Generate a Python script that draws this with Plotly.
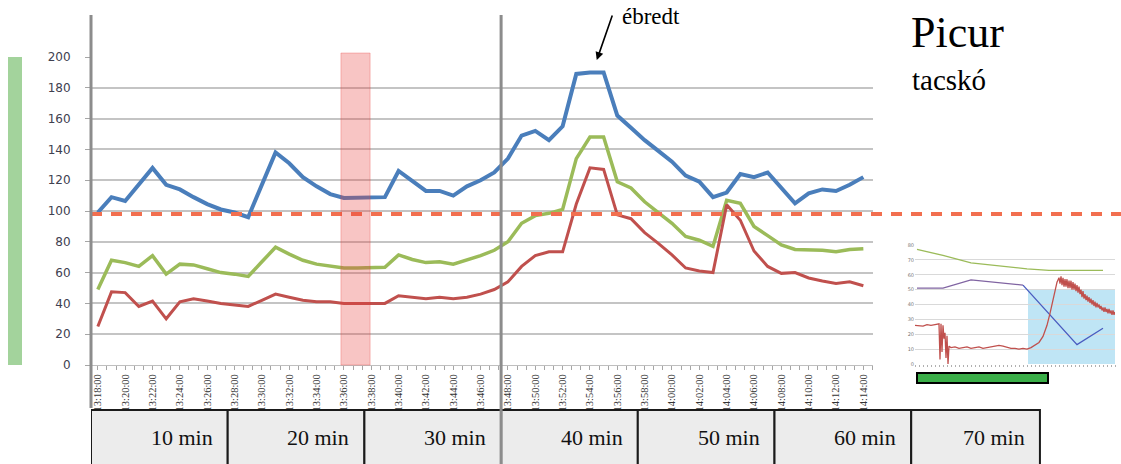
import pandas as pd
import plotly.graph_objects as go

DAY = "2021-01-01 "

# minute-by-minute readings, 13:18 .. 14:14
times = ["13:18", "13:19", "13:20", "13:21", "13:22", "13:23", "13:24", "13:25", "13:26", "13:27",
         "13:28", "13:29", "13:30", "13:31", "13:32", "13:33", "13:34", "13:35", "13:36", "13:37",
         "13:38", "13:39", "13:40", "13:41", "13:42", "13:43", "13:44", "13:45", "13:46", "13:47",
         "13:48", "13:49", "13:50", "13:51", "13:52", "13:53", "13:54", "13:55", "13:56", "13:57",
         "13:58", "13:59", "14:00", "14:01", "14:02", "14:03", "14:04", "14:05", "14:06", "14:07",
         "14:08", "14:09", "14:10", "14:11", "14:12", "14:13", "14:14"]
blue = [99, 109, 106.5, 117, 128, 117, 114, 109, 104.5, 101,
        99, 96, 117, 138, 131, 122, 116, 111, 108.5, 108.5,
        108.5, 109, 126, 119.5, 113, 113, 110, 116, 120, 125,
        134, 149, 152, 146, 155, 189, 190, 190, 162, 154,
        146, 139, 132, 123, 119, 109, 112, 124, 122, 125,
        115, 105, 111.5, 114, 113, 117, 122]
green = [49, 68, 66.5, 64, 71, 59, 65.5, 65, 62.5, 60,
         59, 57.5, 67, 76.5, 72, 68, 65.5, 64, 63, 63,
         63, 63.5, 71.5, 68.5, 66.5, 67, 65.5, 68, 71, 74.5,
         80, 92, 97, 98.5, 101, 134, 148, 148, 119, 115,
         106, 99, 92, 83.5, 81, 77, 107, 105, 90, 84,
         78, 75, 75, 74.5, 73.5, 75, 75.5]
red = [25, 47.5, 47, 38, 41.5, 30, 41, 43, 41.5, 40,
       39, 38, 42, 46, 44, 42, 41, 41, 40, 40,
       40, 40, 45, 44, 43, 44, 43, 44, 46, 49,
       54, 64, 71, 73.5, 73.5, 104.5, 128, 127, 97.5, 95,
       86, 79, 71.5, 63, 61, 60, 104, 94, 74, 64,
       59.5, 60, 56.5, 54.5, 53, 54, 51.5]
threshold = 98

band = ["13:35:47", "13:37:55"]
block_edges = ["13:17:30", "13:27:30", "13:37:30", "13:47:30", "13:57:30",
               "14:07:30", "14:17:30", "14:26:55"]
block_labels = ["10 min", "20 min", "30 min", "40 min", "50 min", "60 min", "70 min"]
divider = "13:47:30"
woke_at = ("13:54:30", 198)

# small inset chart
inset_green_x = [1, 14, 28, 41, 56, 67, 94]
inset_green_y = [77, 73, 68, 66, 64, 63, 63]
inset_purple_x = [1, 14, 28, 54]
inset_purple_y = [51, 51, 56.5, 53]
inset_blue_x = [54, 81, 94]
inset_blue_y = [53, 13, 24]
inset_red_x = [0, 2, 4, 6, 8, 10, 12, 12.5, 13, 13.5, 14, 14.5, 15, 15.5, 16, 16.5, 17, 18,
               20, 22, 24, 26, 28, 30, 32, 34, 36, 38, 40, 42, 44, 46, 48, 50, 52, 54, 56,
               58, 60, 62, 64, 66, 67.5, 69, 70, 71, 72, 72.5, 73, 73.5, 74, 74.5, 75, 75.5,
               76, 76.5, 77, 77.5, 78, 78.5, 79, 79.5, 80, 80.5, 81, 81.5, 82, 82.5, 83, 83.5,
               84, 84.5, 85, 85.5, 86, 86.5, 87, 87.5, 88, 88.5, 89, 89.5, 90, 90.5, 91, 91.5,
               92, 92.5, 93, 93.5, 94, 94.5, 95, 95.5, 96, 96.5, 97, 97.5, 98, 98.5, 99, 99.5, 100]
inset_red_y = [26, 26, 25.5, 26.5, 26, 26.5, 27, 3, 27, 8, 26, 17, 21, 4, 19, 0, 12, 11,
               11.5, 10.5, 11, 11.5, 10.5, 11, 11.5, 10.5, 11, 11.5, 11.5, 12.5, 12, 11, 10.5, 10.5, 10, 10.5, 10,
               11, 12.5, 14.5, 18.5, 26, 34, 43, 50, 55, 58, 54, 59, 53, 58, 52, 57, 52,
               57, 51, 56, 51, 56, 50, 55, 50, 54, 49, 53, 48, 52, 47, 50, 45,
               49, 44, 47, 43, 46, 42, 45, 41, 44, 40, 43, 39, 42, 38, 41, 38,
               40, 37, 39, 36, 38, 35, 38, 35, 37, 34, 37, 34, 36, 33, 36, 33, 35]

# page geometry (pixels)
W, H = 1121, 464
LEFT, RIGHT_MAIN, TOP, BOTTOM = 91, 873, 57, 365
PX_PER_MIN = 13.67


def fx(px):
    return (px - LEFT) / (W - LEFT)


def fy(py):
    return (BOTTOM - py) / (BOTTOM - TOP)


t0 = pd.Timestamp(DAY + block_edges[0])
main_end = t0 + pd.Timedelta(minutes=(RIGHT_MAIN - LEFT) / PX_PER_MIN)
full_end = t0 + pd.Timedelta(minutes=(W - LEFT) / PX_PER_MIN)
x = [DAY + t for t in times]

SERIF = "Liberation Serif, Times New Roman, serif"

fig = go.Figure()
for vals, color, width in [(blue, "#4a7ebb", 4), (green, "#9bbb59", 3.5), (red, "#c0504d", 3)]:
    fig.add_trace(go.Scatter(x=x, y=vals, mode="lines", line=dict(color=color, width=width),
                             xaxis="x", yaxis="y", showlegend=False, hoverinfo="skip"))

fig.add_trace(go.Scatter(x=[t0, full_end], y=[threshold, threshold], mode="lines",
                         line=dict(color="#f26f4f", width=4, dash="11px,9px"),
                         xaxis="x2", yaxis="y2", showlegend=False, hoverinfo="skip"))

for xs, ys, color, width in [(inset_green_x, inset_green_y, "#9bbb59", 1.3),
                             (inset_purple_x, inset_purple_y, "#8064a2", 1.3),
                             (inset_blue_x, inset_blue_y, "#4a5cc0", 1.3),
                             (inset_red_x, inset_red_y, "#c0504d", 1.3)]:
    fig.add_trace(go.Scatter(x=xs, y=ys, mode="lines", line=dict(color=color, width=width),
                             xaxis="x3", yaxis="y3", showlegend=False, hoverinfo="skip"))

shapes = [
    dict(type="rect", xref="paper", yref="y", x0=fx(8), x1=fx(22), y0=0, y1=200,
         fillcolor="#a3d39c", line=dict(width=0), layer="below"),
    dict(type="rect", xref="x", yref="paper", x0=DAY + band[0], x1=DAY + band[1], y0=0, y1=fy(53),
         fillcolor="rgba(232,64,58,0.3)", line=dict(color="rgba(232,64,58,0.3)", width=1)),
    dict(type="rect", xref="x3", yref="y3", x0=56.5, x1=103, y0=0, y1=50,
         fillcolor="#bfe5f5", line=dict(width=0), layer="below"),
    dict(type="rect", xref="x3", yref="paper", x0=1, x1=66.5, y0=fy(383), y1=fy(373),
         fillcolor="#3aae48", line=dict(color="black", width=2)),
]
for a, b in zip(block_edges[:-1], block_edges[1:]):
    shapes.append(dict(type="rect", xref="x2", yref="paper", x0=DAY + a, x1=DAY + b,
                       y0=fy(472), y1=fy(410), fillcolor="#ececec",
                       line=dict(color="#1a1a1a", width=2)))
shapes.append(dict(type="line", xref="paper", yref="paper", x0=0, x1=0, y0=fy(15), y1=fy(408),
                   line=dict(color="#8c8c8c", width=3)))
shapes.append(dict(type="line", xref="x2", yref="paper", x0=DAY + divider, x1=DAY + divider,
                   y0=fy(15), y1=fy(472), line=dict(color="#8c8c8c", width=3)))

annotations = [
    dict(xref="x", yref="y", x=DAY + woke_at[0], y=woke_at[1], ax=16, ay=-46, text="",
         showarrow=True, arrowhead=2, arrowsize=1, arrowwidth=1.6, arrowcolor="black"),
    dict(xref="paper", yref="paper", x=fx(620), y=fy(17), xanchor="left", yanchor="middle",
         text="ébredt", showarrow=False, font=dict(family=SERIF, size=23, color="black")),
    dict(xref="paper", yref="paper", x=fx(909), y=fy(33), xanchor="left", yanchor="middle",
         text="Picur", showarrow=False, font=dict(family=SERIF, size=44, color="black")),
    dict(xref="paper", yref="paper", x=fx(910), y=fy(80), xanchor="left", yanchor="middle",
         text="tacskó", showarrow=False, font=dict(family=SERIF, size=29, color="black")),
]
for edge, label in zip(block_edges[1:], block_labels):
    annotations.append(dict(xref="x2", yref="paper", x=DAY + edge, xshift=-13, y=fy(437),
                            xanchor="right", yanchor="middle", text=label, showarrow=False,
                            font=dict(family=SERIF, size=22, color="#111111")))

fig.update_layout(
    width=W, height=H,
    margin=dict(l=LEFT, r=0, t=TOP, b=H - BOTTOM, pad=0, autoexpand=False),
    paper_bgcolor="white", plot_bgcolor="rgba(0,0,0,0)",
    showlegend=False,
    xaxis=dict(domain=[0, fx(RIGHT_MAIN)], anchor="y", type="date", range=[t0, main_end],
               tickformat="%H:%M:%S", dtick=120000, tick0=DAY + "13:18:00", tickangle=-90,
               ticks="outside", ticklen=4, tickcolor="#a6a6a6", showgrid=False,
               showline=True, linecolor="#bfbfbf", linewidth=1,
               tickfont=dict(family=SERIF, size=10.5, color="#333333"),
               minor=dict(dtick=40000, tick0=DAY + "13:18:00", ticks="outside", ticklen=4,
                          tickcolor="#a6a6a6")),
    yaxis=dict(domain=[0, 1], anchor="x", range=[0, 200], dtick=20, showgrid=True,
               gridcolor="#c4c4c4", gridwidth=1.5, zeroline=False, showline=False,
               ticks="outside", ticklen=5, tickcolor="#a6a6a6", ticklabelstandoff=12,
               tickfont=dict(family="DejaVu Sans, Verdana, sans-serif", size=12, color="#404050")),
    xaxis2=dict(domain=[0, 1], anchor="y2", type="date", range=[t0, full_end], visible=False),
    yaxis2=dict(domain=[0, 1], anchor="x2", range=[0, 200], visible=False),
    xaxis3=dict(domain=[fx(915), fx(1115)], anchor="y3", range=[0, 100], showgrid=False,
                showticklabels=False, ticks="outside", ticklen=2, dtick=2, tickcolor="#b0b0b0",
                showline=False, zeroline=False),
    yaxis3=dict(domain=[fy(364), fy(245)], anchor="x3", range=[0, 80], dtick=10,
                gridcolor="#d9d9d9", gridwidth=1, zeroline=False, showline=False,
                tickfont=dict(family="DejaVu Sans, sans-serif", size=5, color="#777777")),
    shapes=shapes,
    annotations=annotations,
)

fig.write_html("out.html", config={"displayModeBar": False},
               post_script="document.body.style.margin='0';")
